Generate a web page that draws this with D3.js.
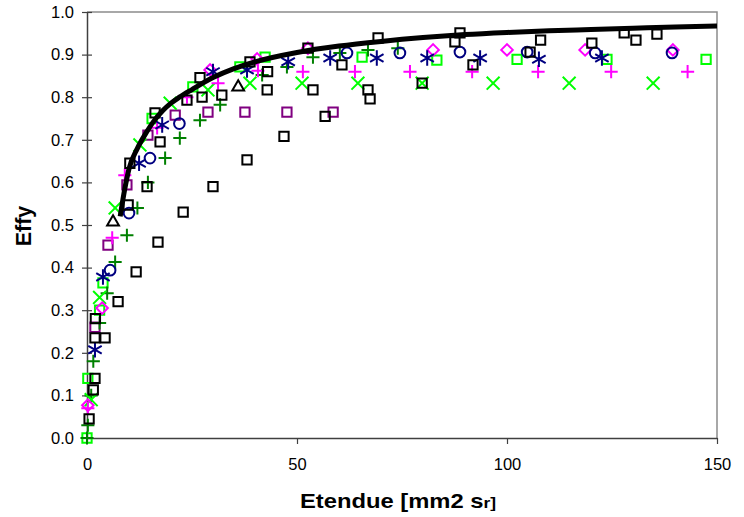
<!DOCTYPE html>
<html>
<head>
<meta charset="utf-8">
<script src="https://d3js.org/d3.v7.min.js"></script>
<style>
  body { margin: 0; background: #fff; }
  svg text { font-family: Arial, "Liberation Sans", sans-serif; }
</style>
</head>
<body>
<svg width="744" height="517"></svg>
<script>
// axis ticks
var xTicks = [0, 50, 100, 150];
var yTicks = [0, 0.1, 0.2, 0.3, 0.4, 0.5, 0.6, 0.7, 0.8, 0.9, 1.0];

// measured series, [etendue, effy]
var blackSquares = [
  [0.5,0.045],[1.5,0.113],[1.9,0.14],[1.9,0.235],[2,0.28],[4.3,0.235],[7.4,0.32],[9.8,0.547],
  [10.2,0.645],[11.7,0.39],[14.3,0.59],[16.2,0.763],[16.9,0.46],[17.4,0.695],[22.9,0.53],
  [23.8,0.793],[26.9,0.846],[27.4,0.80],[30,0.59],[32.1,0.805],[38.1,0.653],[38.8,0.883],
  [42.9,0.817],[43,0.86],[46.9,0.708],[52.6,0.915],[53.8,0.817],[56.7,0.755],[60.7,0.876],
  [66.9,0.817],[67.4,0.796],[69.3,0.939],[79.8,0.833],[87.6,0.93],[88.8,0.951],[91.9,0.876],
  [105.5,0.906],[108,0.934],[120.2,0.927],[127.9,0.951],[130.7,0.934],[135.7,0.948]
];
var purpleSquares = [
  [1.9,0.26],[5,0.453],[9.5,0.594],[14.5,0.711],[21,0.758],[28.8,0.765],[37.6,0.765],
  [47.6,0.765],[58.6,0.765]
];
var greenSquares = [
  [0,0],[0.2,0.14],[3,0.30],[3.8,0.364],[15.5,0.75],[25.2,0.824],[36.4,0.871],[42.4,0.894],
  [65.5,0.894],[83.3,0.887],[102.4,0.889],[123.8,0.889],[147.4,0.889]
];
var magentaPlus = [
  [0.2,0.07],[6,0.47],[9,0.617],[16.7,0.728],[23.8,0.80],[31.2,0.833],[40.7,0.862],
  [51.4,0.86],[63.8,0.86],[76.9,0.86],[91.7,0.86],[107.4,0.86],[124.8,0.86],[143,0.86]
];
var magentaDiamonds = [
  [0.2,0.077],[3.6,0.305],[29.3,0.864],[40.5,0.89],[52.6,0.915],[82.4,0.911],[100,0.911],
  [118.6,0.911],[139.5,0.911]
];
var greenCrosses = [
  [1,0.09],[3,0.33],[6.7,0.54],[12.6,0.688],[19.8,0.786],[28.8,0.817],[38.8,0.833],
  [51.2,0.833],[64.5,0.833],[79.8,0.833],[96.7,0.833],[114.8,0.833],[134.8,0.833]
];
var darkGreenPlus = [
  [0,0],[0.2,0.03],[1,0.10],[1.5,0.18],[3,0.27],[4.8,0.34],[6.7,0.413],[9.5,0.476],
  [12,0.54],[14.5,0.60],[18.6,0.657],[22.1,0.704],[26.9,0.746],[31.7,0.782],[41.7,0.852],
  [47.6,0.871],[53.8,0.894],[60.2,0.904],[66.9,0.911],[74,0.915]
];
var navyCircles = [
  [5.5,0.394],[10,0.528],[15,0.657],[22,0.738],[61.9,0.904],[74.5,0.904],[88.8,0.906],
  [104.8,0.906],[121,0.904],[139.3,0.904]
];
var navyStars = [
  [1.9,0.207],[3.8,0.378],[12.4,0.645],[17.9,0.735],[30,0.86],[38.1,0.864],[47.9,0.883],
  [57.9,0.892],[69,0.892],[81,0.892],[93.6,0.892],[107.6,0.889],[122.6,0.892]
];
var blackTriangles = [[6.2,0.507],[36,0.824]];

// fitted trend
var trendX = [7.9, 9, 10, 12, 14, 16, 18, 20, 22, 25, 30, 35, 40, 50, 60, 70, 80, 90, 100, 110, 120, 130, 140, 150];
var trendY = [0.52, 0.585, 0.632, 0.68, 0.715, 0.745, 0.768, 0.786, 0.80, 0.818, 0.846, 0.867, 0.883, 0.905, 0.92, 0.931, 0.94, 0.947, 0.952, 0.956, 0.959, 0.962, 0.965, 0.967];

var svg = d3.select("svg");
var mLeft = 87, mRight = 717, mTop = 12, mBottom = 438;
var tickFont = "16.5px";

var x = d3.scaleLinear().domain([0, 150]).range([mLeft, mRight]);
var y = d3.scaleLinear().domain([0, 1]).range([mBottom, mTop]);

// plot frame (grey top / right)
svg.append("path")
  .attr("d", "M" + mLeft + "," + mTop + "H" + mRight + "V" + mBottom)
  .attr("fill", "none").attr("stroke", "#8c8c8c").attr("stroke-width", 1.5);

// y axis
var yAxis = svg.append("g")
  .attr("transform", "translate(" + mLeft + ",0)")
  .call(d3.axisLeft(y).tickValues(yTicks).tickFormat(d3.format(".1f")).tickSizeInner(5).tickSizeOuter(0).tickPadding(6));
yAxis.selectAll(".tick line").attr("x2", 5).attr("x1", -5);
yAxis.select(".domain").attr("stroke", "#404040").attr("stroke-width", 1.5);
yAxis.selectAll(".tick line").attr("stroke", "#404040").attr("stroke-width", 1.2);
yAxis.selectAll("text").attr("x", -13)
  .style("font-family", "Arial, 'Liberation Sans', sans-serif").style("font-size", tickFont).attr("fill", "#000");

// x axis
var xAxis = svg.append("g")
  .attr("transform", "translate(0," + mBottom + ")")
  .call(d3.axisBottom(x).tickValues(xTicks).tickFormat(d3.format("d")).tickSizeInner(6).tickSizeOuter(0).tickPadding(14));
xAxis.select(".domain").attr("stroke", "#404040").attr("stroke-width", 1.5);
xAxis.selectAll(".tick line").attr("stroke", "#404040").attr("stroke-width", 1.2);
xAxis.selectAll("text")
  .style("font-family", "Arial, 'Liberation Sans', sans-serif").style("font-size", tickFont).attr("fill", "#000");

// axis titles
svg.append("text")
  .attr("transform", "translate(31,226) rotate(-90)")
  .attr("text-anchor", "middle")
  .style("font-size", "21.5px").style("font-weight", "bold")
  .text("Effy");

var xt = svg.append("text")
  .attr("transform", "translate(398,508) scale(1.16,1)")
  .attr("text-anchor", "middle")
  .style("font-size", "20.5px").style("font-weight", "bold");
xt.append("tspan").text("Etendue [mm2 s");
xt.append("tspan").style("font-size", "15px").text("r]");

// markers
function drawSeries(data, type, size, color) {
  svg.append("g")
    .selectAll("path")
    .data(data)
    .enter()
    .append("path")
    .attr("transform", function(d){ return "translate(" + x(d[0]) + "," + y(d[1]) + ")"; })
    .attr("d", d3.symbol().type(type).size(size))
    .attr("fill", "none")
    .attr("stroke", color)
    .attr("stroke-width", 2);
}

drawSeries(greenSquares, d3.symbolSquare2, 110, "#00ff00");
drawSeries(purpleSquares, d3.symbolSquare2, 110, "#800080");
drawSeries(darkGreenPlus, d3.symbolPlus, 58, "#008000");
drawSeries(greenCrosses, d3.symbolX, 110, "#00ff00");
drawSeries(magentaPlus, d3.symbolPlus, 58, "#ff00ff");
drawSeries(magentaDiamonds, d3.symbolDiamond2, 85, "#ff00ff");
drawSeries(navyCircles, d3.symbolCircle, 90, "#000080");
drawSeries(navyStars, d3.symbolAsterisk, 170, "#000080");
drawSeries(blackTriangles, d3.symbolTriangle2, 100, "#000000");
drawSeries(blackSquares, d3.symbolSquare2, 110, "#000000");

// trend curve on top
var trend = trendX.map(function(v, i){ return [v, trendY[i]]; });
svg.append("path")
  .datum(trend)
  .attr("fill", "none")
  .attr("stroke", "#000")
  .attr("stroke-width", 5)
  .attr("stroke-linejoin", "round")
  .attr("d", d3.line().x(function(d){ return x(d[0]); }).y(function(d){ return y(d[1]); }).curve(d3.curveMonotoneX));
</script>
</body>
</html>
